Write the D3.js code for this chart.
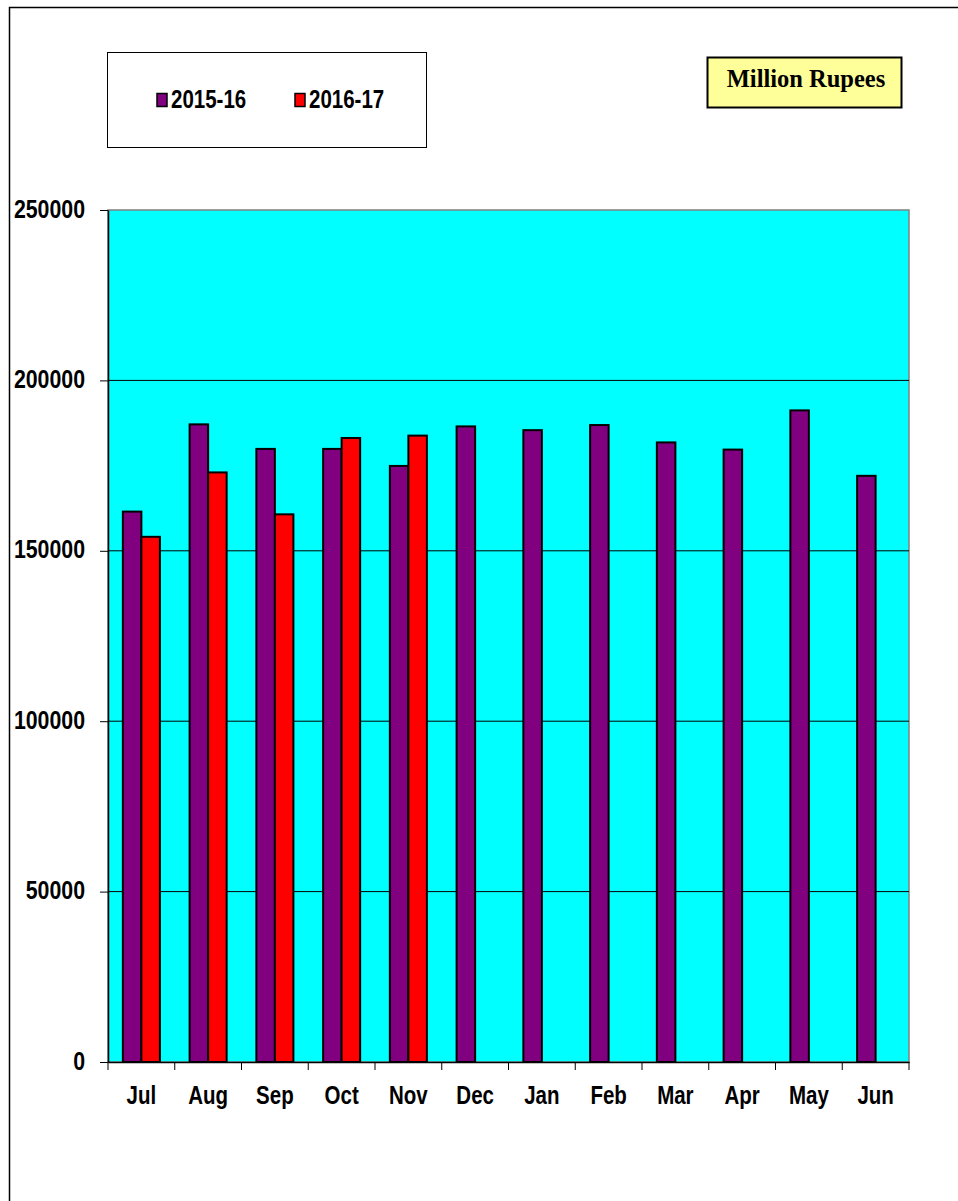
<!DOCTYPE html>
<html>
<head>
<meta charset="utf-8">
<script src="https://cdn.jsdelivr.net/npm/d3@7"></script>
<style>
  body { margin: 0; background: #fff; }
</style>
</head>
<body>
<div id="chart"></div>
<script>
const months = ["Jul", "Aug", "Sep", "Oct", "Nov", "Dec", "Jan", "Feb", "Mar", "Apr", "May", "Jun"];
const seriesNames = ["2015-16", "2016-17"];
const values2015 = [161500, 187100, 179900, 179900, 174900, 186500, 185400, 186900, 181800, 179700, 191200, 172000];
const values2016 = [154100, 173000, 160700, 183100, 183800, null, null, null, null, null, null, null];
const yTicks = [0, 50000, 100000, 150000, 200000, 250000];
const colors = ["#800080", "#ff0000"];

const W = 958, H = 1201;
const margin = { top: 210, left: 108, right: 49, bottom: 139 };
const width = W - margin.left - margin.right,
      height = H - margin.top - margin.bottom;

// no narrow font installed: squeeze Liberation Sans horizontally instead
const sansFont = "'Liberation Sans', Arial, sans-serif";
const squeeze = 0.82;

const svg = d3.select("#chart").append("svg")
    .attr("width", W)
    .attr("height", H);

// outer frame (right and bottom edges fall outside the picture)
svg.append("rect")
    .attr("x", 9.5).attr("y", 7.5)
    .attr("width", W + 20).attr("height", H + 20)
    .attr("fill", "none")
    .attr("stroke", "#000")
    .attr("stroke-width", 1.5);

const chart = svg.append("g")
    .attr("transform", `translate(${margin.left},${margin.top})`);

const x = d3.scaleBand().domain(months).range([0, width]).padding(0);
const gap = x.bandwidth() * 0.445;
const x1 = d3.scaleBand().domain(seriesNames).range([gap / 2, x.bandwidth() - gap / 2]);
const y = d3.scaleLinear().domain([0, 250000]).range([height, 0]);

chart.append("rect")
    .attr("width", width).attr("height", height)
    .attr("fill", "#00ffff")
    .attr("stroke", "#808080")
    .attr("stroke-width", 1.5);

// gridlines
chart.selectAll("line.grid")
    .data(yTicks.filter(d => d > 0 && d < 250000))
    .enter().append("line")
    .attr("class", "grid")
    .attr("x1", 0).attr("x2", width)
    .attr("y1", d => y(d)).attr("y2", d => y(d))
    .attr("stroke", "#000")
    .attr("stroke-width", 1);

const data = months.map((m, i) => ({ month: m, vals: [values2015[i], values2016[i]] }));

const groups = chart.selectAll("g.month")
    .data(data)
    .enter().append("g")
    .attr("class", "month")
    .attr("transform", d => `translate(${x(d.month)},0)`);

groups.selectAll("rect")
    .data(d => d.vals.map((v, j) => ({ key: seriesNames[j], value: v, j }))
        .filter(d => d.value != null))
    .enter().append("rect")
    .attr("x", d => x1(d.key))
    .attr("y", d => y(d.value))
    .attr("width", x1.bandwidth())
    .attr("height", d => height - y(d.value))
    .attr("fill", d => colors[d.j])
    .attr("stroke", "#000")
    .attr("stroke-width", 2);

// axes
const yAxis = chart.append("g")
    .call(d3.axisLeft(y).tickValues(yTicks).tickSize(8).tickSizeOuter(0).tickFormat(d3.format("d")));
yAxis.select(".domain").attr("stroke", "#000").attr("stroke-width", 1.5);
yAxis.selectAll("text")
    .attr("x", 0).attr("y", 0).attr("dy", 0)
    .attr("transform", `translate(-23,7) scale(${squeeze},1)`)
    .style("font-family", sansFont)
    .style("font-weight", "bold")
    .style("font-size", "26px")
    .attr("fill", "#000");

const xAxis = chart.append("g")
    .attr("transform", `translate(0,${height})`)
    .call(d3.axisBottom(x).tickSize(0).tickSizeOuter(0));
xAxis.select(".domain").attr("stroke", "#000").attr("stroke-width", 1.5);
xAxis.selectAll("text")
    .attr("x", 0).attr("y", 0).attr("dy", 0)
    .attr("transform", `translate(0,42) scale(${squeeze},1)`)
    .style("font-family", sansFont)
    .style("font-weight", "bold")
    .style("font-size", "25px")
    .attr("fill", "#000");

// tick marks on category boundaries
chart.selectAll("line.xtick")
    .data(d3.range(months.length + 1))
    .enter().append("line")
    .attr("class", "xtick")
    .attr("x1", i => i * x.bandwidth()).attr("x2", i => i * x.bandwidth())
    .attr("y1", height).attr("y2", height + 8)
    .attr("stroke", "#000")
    .attr("stroke-width", 1);

// legend
const legend = svg.append("g");
legend.append("rect")
    .attr("x", 107.5).attr("y", 52.5)
    .attr("width", 319).attr("height", 95)
    .attr("fill", "#fff")
    .attr("stroke", "#000")
    .attr("stroke-width", 1);
const legendX = [157, 295];
seriesNames.forEach((name, i) => {
    legend.append("rect")
        .attr("x", legendX[i]).attr("y", 93.5)
        .attr("width", 10).attr("height", 13)
        .attr("fill", colors[i])
        .attr("stroke", "#000")
        .attr("stroke-width", 1.5);
    legend.append("text")
        .attr("transform", `translate(${legendX[i] + 14},108) scale(${squeeze},1)`)
        .style("font-family", sansFont)
        .style("font-weight", "bold")
        .style("font-size", "25px")
        .text(name);
});

// units box
svg.append("rect")
    .attr("x", 707.5).attr("y", 57.5)
    .attr("width", 194).attr("height", 50)
    .attr("fill", "#ffff99")
    .attr("stroke", "#000")
    .attr("stroke-width", 2);
svg.append("text")
    .attr("x", 806).attr("y", 87)
    .attr("text-anchor", "middle")
    .style("font-family", "'Liberation Serif', 'Times New Roman', serif")
    .style("font-weight", "bold")
    .style("font-size", "24.5px")
    .text("Million Rupees");
</script>
</body>
</html>
